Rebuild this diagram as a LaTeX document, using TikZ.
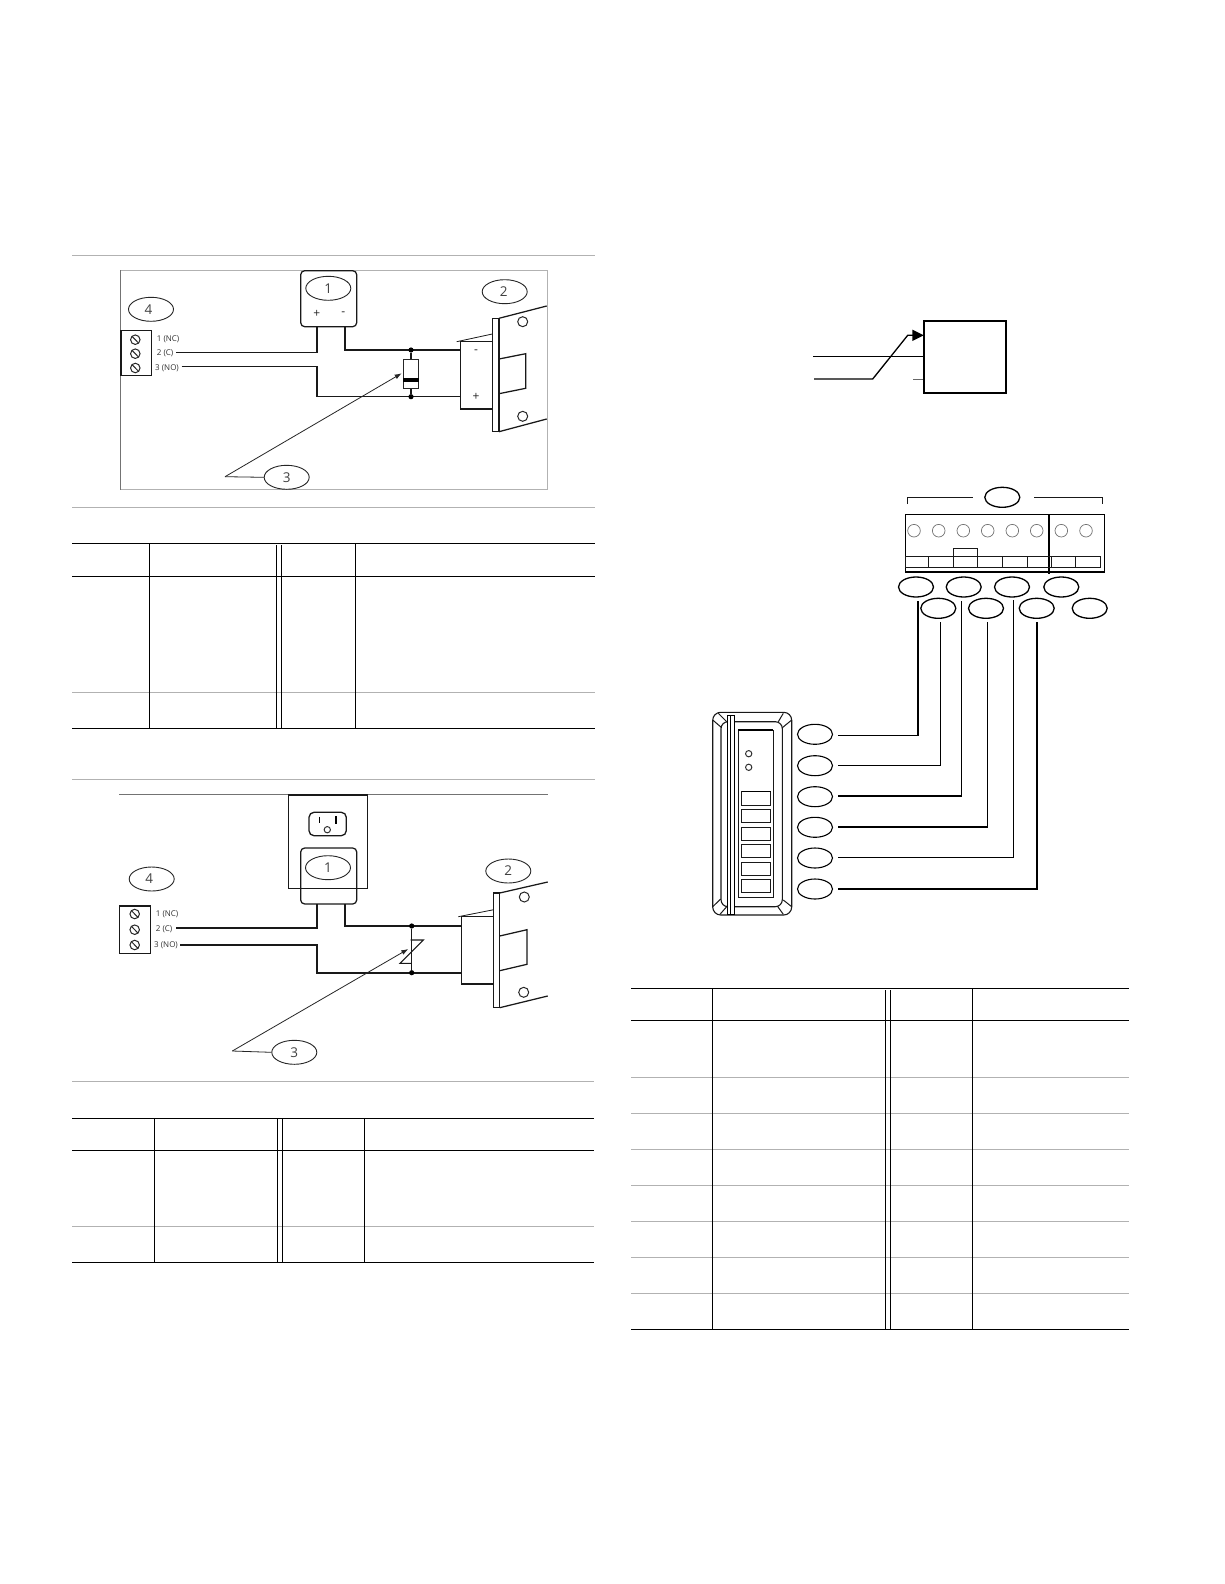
\documentclass[tikz,border=0pt]{standalone}
\usepackage{fontspec}
\setmainfont{Open Sans}
\usetikzlibrary{shapes.geometric,arrows.meta}
\tikzset{
  callout/.style={ellipse,draw=black!85,line width=0.9pt,minimum width=45pt,minimum height=24pt,inner sep=0pt,font=\fontsize{13.5}{15}\selectfont,text=black!75},
  tag/.style={ellipse,draw=black,line width=1.3pt,minimum width=35pt,minimum height=20pt,inner sep=0pt},
  wire/.style={line width=1.5pt,black!90,line join=miter},
  part/.style={line width=1.25pt,draw=black!90},
  pinlabel/.style={anchor=west,inner sep=0pt,font=\fontsize{8}{9}\selectfont,text=black!80},
  signlabel/.style={inner sep=0pt,font=\fontsize{12}{13}\selectfont,text=black!85},
  dotjoin/.style={circle,fill=black,inner sep=0pt,minimum size=5.2pt},
  screw/.style={circle,draw=black!85,line width=1pt,inner sep=0pt,minimum size=9.5pt},
  hole/.style={circle,draw=black!85,line width=1pt,inner sep=0pt,minimum size=10pt},
  blackrule/.style={line width=1.1pt,black},
  grayrule/.style={line width=1.1pt,black!30},
  frameline/.style={line width=0.7pt,black!30},
  callarrow/.style={line width=0.8pt,black!85,-{Latex[length=7pt,width=5pt]}},
  callline/.style={line width=0.8pt,black!85},
  led/.style={circle,draw=black!80,line width=1pt,inner sep=0pt,minimum size=6.3pt},
  term/.style={circle,draw=black!55,line width=0.7pt,inner sep=0pt,minimum size=12.6pt},
}
\begin{document}
\begin{tikzpicture}[x=1pt,y=-1pt]
\path[use as bounding box,fill=white] (0,0) rectangle (1224,1584);

% ---------- page rules ----------
\draw[grayrule] (72,255.5) -- (595,255.5);
\draw[grayrule] (72,507.3) -- (595,507.3);
\draw[grayrule] (72,779.3) -- (595,779.3);
\draw[grayrule] (72,1081.3) -- (593.8,1081.3);

% ---------- table 1 ----------
\foreach \yy in {543.3,576.3,728.3} \draw[blackrule] (72,\yy) -- (595,\yy);
\draw[grayrule] (72,692.3) -- (595,692.3);
\foreach \xx in {149.4,355.7} \draw[blackrule] (\xx,543.3) -- (\xx,728.3);
\foreach \xx in {276.4,281.3} \draw[line width=0.9pt,black] (\xx,545) -- (\xx,728.3);

% ---------- table 2 ----------
\foreach \yy in {1118.3,1150.3,1262.3} \draw[blackrule] (72,\yy) -- (593.8,\yy);
\draw[grayrule] (72,1226.3) -- (593.8,1226.3);
\foreach \xx in {154.4,364.5} \draw[blackrule] (\xx,1118.3) -- (\xx,1262.3);
\draw[line width=0.5pt,black] (277.5,1118.3) -- (277.5,1262.3);
\draw[line width=1pt,black] (282.7,1118.3) -- (282.7,1262.3);

% ---------- table 3 ----------
\foreach \yy in {988.7,1020.3,1329.3} \draw[blackrule] (631,\yy) -- (1129,\yy);
\foreach \yy in {1077.3,1113.3,1149.3,1185.3,1221.3,1257.3,1293.3} \draw[grayrule] (631,\yy) -- (1129,\yy);
\foreach \xx in {712.3,972.3} \draw[blackrule] (\xx,988.7) -- (\xx,1329.3);
\foreach \xx in {885.3,890.3} \draw[line width=0.9pt,black] (\xx,990) -- (\xx,1329.3);

% ---------- diagram A ----------
\draw[frameline] (120.3,270.3) rectangle (547.3,489.7);
\draw[line width=0.7pt,black!55] (120.3,270.3) -- (120.3,489.7);
\node[part,rounded corners=4pt,draw,minimum width=56pt,minimum height=56pt,inner sep=0pt] (psA) at (328.7,298.7) {};
\node[callout] (a1) at (328.3,288.3) {1};
\node[callout] (a2) at (504.7,291.7) {2\kern 2pt};
\node[callout] (a3) at (286.7,477.3) {3};
\node[callout] (a4) at (151,309.3) {4\kern 5pt};
\node[signlabel] (aplus) at (316.7,314) {+};
\node[signlabel] (aminus) at (343.3,314) {-};
\node[part,draw,line width=1.5pt,minimum width=30.7pt,minimum height=44.6pt,inner sep=0pt] (tbA) at (136.3,353) {};
\foreach \n/\yy in {1/339.7,2/353.7,3/368} {
  \node[screw] (sa\n) at (135.3,\yy) {};
  \draw[line width=1pt,black!85] (132.2,\yy-3.2) -- (138.4,\yy+3.2);
}
\node[pinlabel] (al1) at (156.7,339) {1 (NC)};
\node[pinlabel] (al2) at (156.7,353.3) {2 (C)};
\node[pinlabel] (al3) at (155,368.3) {3 (NO)};
\node[part,draw,minimum width=31.6pt,minimum height=67.3pt,inner sep=0pt] (sbA) at (476.5,375.3) {};
\node[signlabel] (sbm) at (476,352) {-};
\node[signlabel] (sbp) at (476,396.5) {+};
\coordinate (aw2) at (176,352.3);
\coordinate (aw3) at (181.7,366.7);
\draw[wire] (aw2) -- (317,352.3) -- (317,326.7);
\draw[wire] (aw3) -- (317,366.7) -- (317,396.7) -- (460.7,396.7);
\draw[wire] (345,326.7) -- (345,350) -- (460.7,350);
\node[dotjoin] (ad1) at (411,350) {};
\node[dotjoin] (ad2) at (411,396.7) {};
\node[draw=black!85,fill=white,line width=0.9pt,minimum width=15.4pt,minimum height=29pt,inner sep=0pt] (diode) at (411,373.8) {};
\fill[black] (403.3,377.7) rectangle (418.7,382.3);
\draw[wire] (ad1) -- (diode);
\draw[wire] (ad2) -- (diode);
\coordinate (acorner) at (225,476.7);
\draw[callline] (a3.west) -- (acorner);
\draw[callarrow] (acorner) -- (401.7,373.3);
% strike A
\draw[part,line width=0.8pt] (456.7,341.7) -- (492.3,334);
\draw[part] (492.3,318.3) rectangle (499,431.7);
\draw[part] (499,318.3) -- (546.7,306);
\draw[part] (499,431.7) -- (546.7,419);
\draw[part] (499,359) -- (525.7,353.7) -- (525.7,388.3) -- (499,393.7);
\node[hole] (ah1) at (522.7,321.7) {};
\node[hole] (ah2) at (522.7,416.3) {};

% ---------- diagram B ----------
\draw[line width=0.9pt,black!55] (119,794.3) -- (547.7,794.3);
\draw[part,line width=1.3pt] (288.3,795) rectangle (367.7,888.7);
\draw[part,line width=1.3pt,rounded corners=5pt] (309,812.3) rectangle (346.3,835.7);
\draw[line width=1.1pt,black] (319.7,816.7) -- (319.7,822.7);
\draw[line width=1.8pt,black] (335.7,816) -- (335.7,824);
\node[led] (gnd) at (327.3,829.7) {};
\node[part,rounded corners=4pt,draw,minimum width=56pt,minimum height=56pt,inner sep=0pt] (psB) at (328.7,876) {};
\node[callout] (b1) at (328,867.7) {1};
\node[callout] (b2) at (508.3,871) {2};
\node[callout] (b3) at (294.3,1052.3) {3};
\node[callout] (b4) at (151.7,879) {4\kern 5pt};
\node[part,draw,line width=1.3pt,minimum width=31pt,minimum height=47.7pt,inner sep=0pt] (tbB) at (134.8,929.8) {};
\foreach \n/\yy in {1/914,2/929.7,3/945} {
  \node[screw] (sb\n) at (134.7,\yy) {};
  \draw[line width=1pt,black!85] (131.6,\yy-3.2) -- (137.8,\yy+3.2);
}
\node[pinlabel] (bl1) at (155.7,914) {1 (NC)};
\node[pinlabel] (bl2) at (155.7,929.7) {2 (C)};
\node[pinlabel] (bl3) at (154,945.7) {3 (NO)};
\node[part,draw,minimum width=32pt,minimum height=67.3pt,inner sep=0pt] (sbB) at (477.7,950.3) {};
\coordinate (bw2) at (176,928);
\coordinate (bw3) at (180,945);
\draw[wire] (bw2) -- (317,928) -- (317,904);
\draw[wire] (bw3) -- (317,945) -- (317,973) -- (461.7,973);
\draw[wire] (345,904) -- (345,926) -- (461.7,926);
\node[dotjoin] (bd1) at (411.7,926) {};
\node[dotjoin] (bd2) at (411.7,972.7) {};
\draw[wire,line width=1.2pt] (bd1) -- (bd2);
\draw[line width=1.1pt,black!90] (410.7,940) -- (423.3,940) -- (400,963.3) -- (411.7,963.3);
\coordinate (bcorner) at (232.3,1051);
\draw[callline] (b3.west) -- (bcorner);
\draw[callarrow] (bcorner) -- (408.3,949);
% strike B
\draw[part,line width=0.8pt] (458.3,916.7) -- (493.7,909.7);
\draw[part] (493.7,893) rectangle (499.7,1007.7);
\draw[part] (499.7,893) -- (547.7,882);
\draw[part] (499.7,1007.7) -- (547.7,996);
\draw[part] (499.7,936) -- (527,929.7) -- (527,964.3) -- (499.7,970.7);
\node[hole] (bh1) at (524.3,897) {};
\node[hole] (bh2) at (523.7,992.3) {};

% ---------- small relay box ----------
\node[draw=black,line width=1.7pt,minimum width=82.3pt,minimum height=72pt,inner sep=0pt] (rel) at (964.9,356.7) {};
\coordinate (rin1) at (813.3,356.3);
\coordinate (rin2) at (814,379);
\coordinate (rstub) at (913.3,379);
\coordinate (rarrow) at (923.7,335.3);
\draw[line width=1pt,black] (rin1) -- (rin1 -| rel.west);
\draw[line width=1pt,black!60] (rstub) -- (rstub -| rel.west);
\draw[line width=1.3pt,black] (rin2) -- (872.7,379) -- (907.7,335.3) -- (913,335.3);
\fill[black] (rarrow) -- (912.3,329.6) -- (912.3,341) -- cycle;

% ---------- terminal strip ----------
\draw[line width=1.1pt,black!90] (907.7,504) -- (907.7,497.3) -- (972.7,497.3);
\draw[line width=1.1pt,black!90] (1034,497.3) -- (1102.3,497.3) -- (1102.3,504);
\node[tag] (t0) at (1002.3,497.3) {};
\draw[line width=1.3pt,black] (905.7,514.3) rectangle (1104.3,572);
\draw[line width=1.7pt,black] (905.7,572) -- (1104.3,572);
\draw[line width=1.6pt,black] (1049,514.3) -- (1049,574);
\foreach \n/\xx in {1/914,2/938.7,3/963.3,4/987.7,5/1012.3,6/1036.7,7/1061.3,8/1086} \node[term] (c\n) at (\xx,530.7) {};
\draw[line width=0.9pt,black!90] (905.7,556.3) rectangle (1100.3,567.3);
\foreach \xx in {928.3,953.3,977.7,1002.3,1027.3,1051.3,1075.7} \draw[line width=0.9pt,black!90] (\xx,556.3) -- (\xx,567.3);
\draw[line width=1pt,black!90] (953.3,556.3) -- (953.3,548.3) -- (977.7,548.3) -- (977.7,556.3);
\node[tag] (u1) at (916,587) {};
\node[tag] (u2) at (963.7,587) {};
\node[tag] (u3) at (1012,587) {};
\node[tag] (u4) at (1061.3,587) {};
\node[tag] (v1) at (938.3,608.3) {};
\node[tag] (v2) at (986,608.3) {};
\node[tag] (v3) at (1036.7,608.3) {};
\node[tag] (v4) at (1089.7,608.3) {};

% ---------- keypad ----------
\draw[line width=1.1pt,black!90,rounded corners=8pt] (712.7,712.3) rectangle (791.7,915);
\draw[line width=1.1pt,black!90,rounded corners=7pt] (721,721.7) rectangle (782.3,906.7);
\draw[line width=1pt,black!90] (712.7,720) -- (721.7,727.7) (718.3,713.3) -- (726.7,721.7);
\draw[line width=1pt,black!90] (791.7,720) -- (782.3,727.7) (783.3,713.3) -- (778.3,721.7);
\draw[line width=1pt,black!90] (712.7,906.7) -- (720.7,899) (720,914.3) -- (727.3,906);
\draw[line width=1pt,black!90] (791.7,906.7) -- (783.3,900) (783.3,914.3) -- (777.3,906);
\draw[line width=1pt,black,fill=white] (727.7,715) rectangle (734.3,914.3);
\draw[line width=1pt,black] (730.5,715) -- (730.5,914.3);
\draw[line width=1pt,black!90] (738.3,730) rectangle (773.3,897.7);
\draw[line width=1.5pt,black] (738.3,730) -- (773.3,730);
\node[led] (l1) at (748.7,753.7) {};
\node[led] (l2) at (748.7,767.3) {};
\foreach \n/\ya/\yb in {1/791.7/805.3,2/809.3/822.7,3/827.3/840.3,4/844.3/857.7,5/862.3/875.7,6/879.3/892.7}
  \draw[line width=1.1pt,black!90] (741.7,\ya) rectangle (770.7,\yb);
\draw[line width=1.5pt,black] (741.7,791.7) -- (770.7,791.7);
\node[tag,line width=1.1pt] (k1) at (815,734.3) {};
\node[tag,line width=1.1pt] (k2) at (815,765.7) {};
\node[tag,line width=1.1pt] (k3) at (815,796.7) {};
\node[tag,line width=1.1pt] (k4) at (815,827.3) {};
\node[tag,line width=1.1pt] (k5) at (815,858) {};
\node[tag,line width=1.1pt] (k6) at (815,889) {};
\coordinate (w1) at (918,600.7);
\coordinate (w2) at (940.7,622.3);
\coordinate (w3) at (961.7,600.7);
\coordinate (w4) at (987.5,622.3);
\coordinate (w5) at (1013.8,600);
\coordinate (w6) at (1037,621.7);
\draw[line width=1.3pt,black] (838.3,735.2) -- (918,735.2) -- (w1);
\draw[line width=1.3pt,black] (838.3,765.6) -- (940.7,765.6) -- (w2);
\draw[line width=1.3pt,black] (838.3,796) -- (961.7,796) -- (w3);
\draw[line width=1.3pt,black] (838.3,827) -- (987.5,827) -- (w4);
\draw[line width=1.3pt,black] (838.3,857.7) -- (1013.8,857.7) -- (w5);
\draw[line width=1.3pt,black] (838.3,889) -- (1037,889) -- (w6);
\end{tikzpicture}
\end{document}
